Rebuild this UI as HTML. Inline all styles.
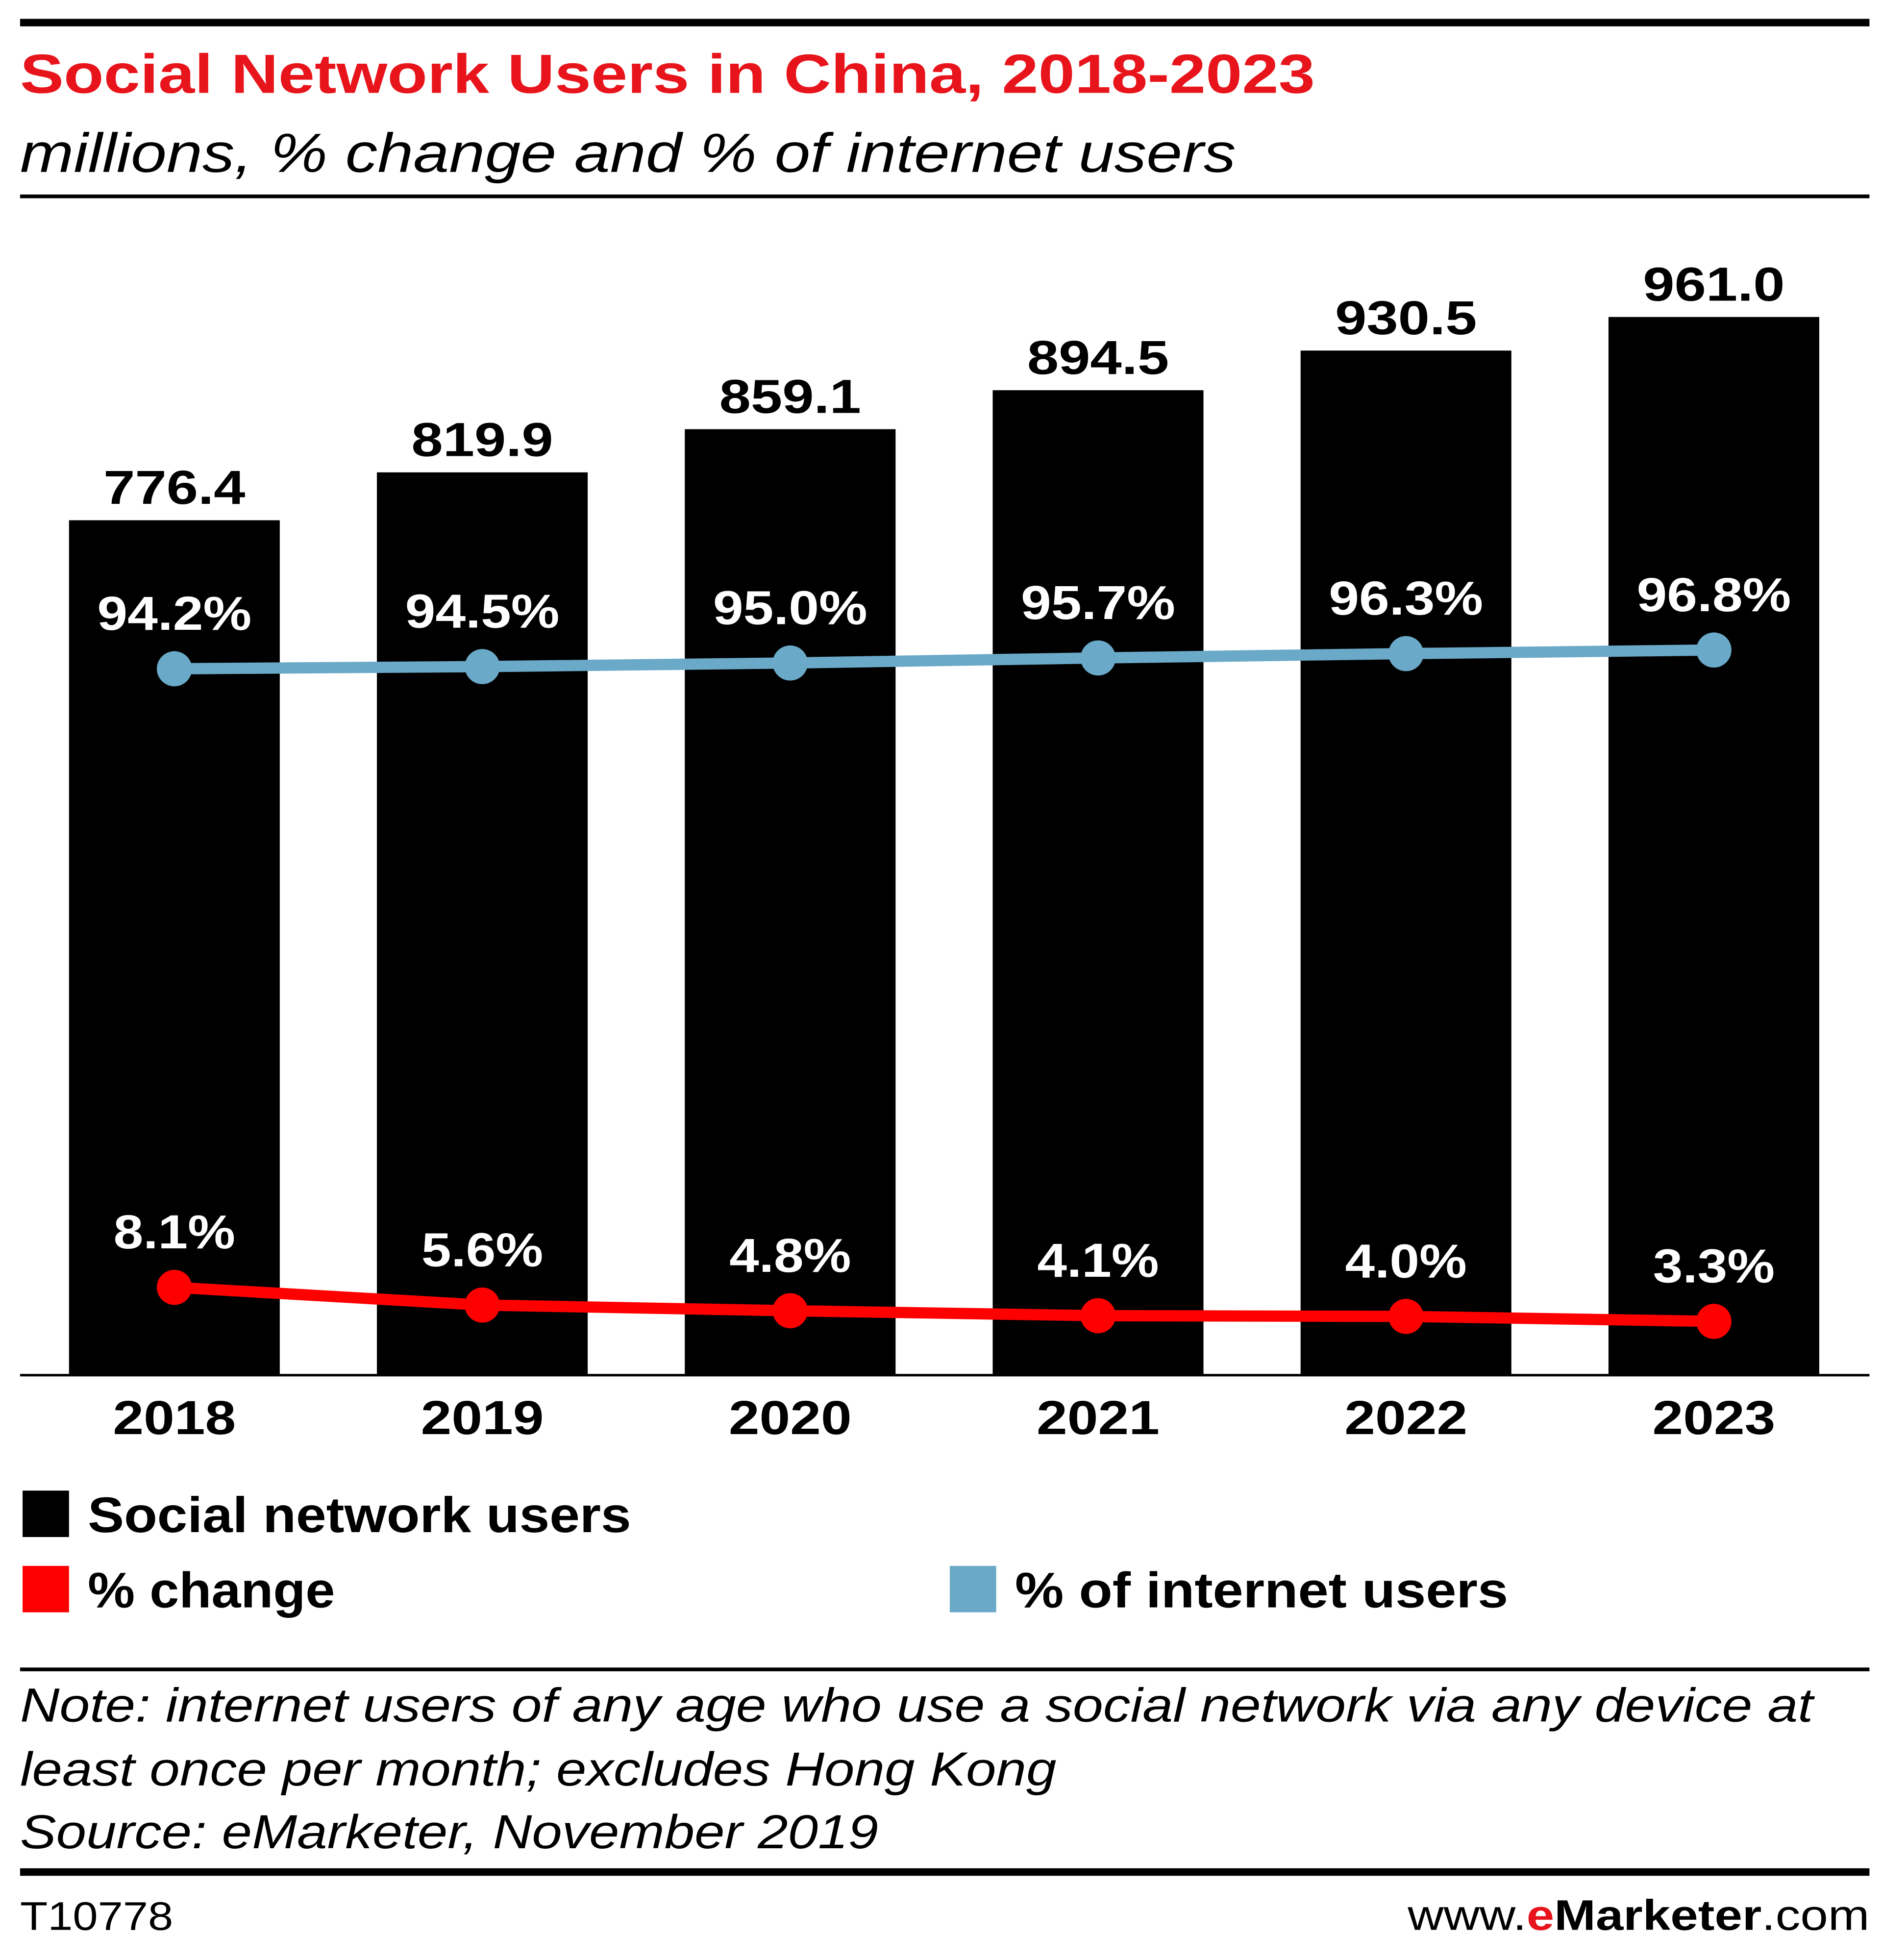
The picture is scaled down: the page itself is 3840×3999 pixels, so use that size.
<!DOCTYPE html>
<html><head><meta charset="utf-8"><style>
html,body{margin:0;padding:0;background:#fff}
svg{display:block}
text{font-family:"Liberation Sans",sans-serif}
</style></head><body>
<svg id="chart" width="3840" height="3999" viewBox="0 0 1500 1562.1" xmlns="http://www.w3.org/2000/svg">
<rect x="0" y="0" width="1500" height="1562.1" fill="#fff"/>
<rect x="16" y="15" width="1474" height="6" fill="#000"/>
<text x="16" y="74" font-size="44" font-weight="bold" fill="#e8141b" textLength="1032" lengthAdjust="spacingAndGlyphs">Social Network Users in China, 2018-2023</text>
<text x="16" y="137" font-size="44" font-style="italic" fill="#000" textLength="969" lengthAdjust="spacingAndGlyphs">millions, % change and % of internet users</text>
<rect x="16" y="155" width="1474" height="3" fill="#000"/>
<g id="plot"></g>
<rect x="18" y="1188" width="37" height="37" fill="#000"/>
<text x="70" y="1221" font-size="40" font-weight="bold" textLength="433" lengthAdjust="spacingAndGlyphs">Social network users</text>
<rect x="18" y="1248" width="37" height="37" fill="#ff0000"/>
<text x="70" y="1281" font-size="40" font-weight="bold" textLength="197" lengthAdjust="spacingAndGlyphs">% change</text>
<rect x="757" y="1248" width="37" height="37" fill="#6aa9c8"/>
<text x="809" y="1281" font-size="40" font-weight="bold" textLength="393" lengthAdjust="spacingAndGlyphs">% of internet users</text>
<rect x="16" y="1329" width="1474" height="3" fill="#000"/>
<text x="16" y="1372" font-size="38" font-style="italic" textLength="1429" lengthAdjust="spacingAndGlyphs">Note: internet users of any age who use a social network via any device at</text>
<text x="16" y="1423" font-size="38" font-style="italic" textLength="826" lengthAdjust="spacingAndGlyphs">least once per month; excludes Hong Kong</text>
<text x="16" y="1473" font-size="38" font-style="italic" textLength="684" lengthAdjust="spacingAndGlyphs">Source: eMarketer, November 2019</text>
<rect x="16" y="1489" width="1474" height="6" fill="#000"/>
<text x="16" y="1538" font-size="32" textLength="122" lengthAdjust="spacingAndGlyphs">T10778</text>
<text x="1122" y="1538" font-size="34" textLength="368" lengthAdjust="spacingAndGlyphs">www.<tspan font-weight="bold" fill="#e8141b">e</tspan><tspan font-weight="bold">Marketer</tspan>.com</text>
</svg>
<script>
const years = ["2018","2019","2020","2021","2022","2023"];
const users = [776.4, 819.9, 859.1, 894.5, 930.5, 961.0];
const pctChange = [8.1, 5.6, 4.8, 4.1, 4.0, 3.3];
const pctInternet = [94.2, 94.5, 95.0, 95.7, 96.3, 96.8];

const NS = "http://www.w3.org/2000/svg";
const plot = document.getElementById("plot");
const baseY = 1096, x0 = 139, step = 245.4, barW = 168;
const xPos = i => x0 + i * step;
const yBar = v => baseY - v * 0.8776;
const yBlue = v => 533 - (v - 94.2) * 5.75;
const yRed = v => 1026 - (v - 8.1) * 5.65;

function mk(tag, attrs, text) {
  const e = document.createElementNS(NS, tag);
  for (const k in attrs) e.setAttribute(k, attrs[k]);
  if (text !== undefined) e.textContent = text;
  plot.appendChild(e);
  return e;
}

users.forEach((v, i) => {
  const b = mk("rect", {x: xPos(i) - barW / 2, y: yBar(v), width: barW, height: baseY - yBar(v), fill: "#000"});
  
  
  const t = mk("text", {x: xPos(i), y: yBar(v) - 13, "font-size": 38, "font-weight": "bold", "text-anchor": "middle", textLength: 113, lengthAdjust: "spacingAndGlyphs"}, v.toFixed(1));
  
  
  const xl = mk("text", {x: xPos(i), y: 1143, "font-size": 38, "font-weight": "bold", "text-anchor": "middle", textLength: 98, lengthAdjust: "spacingAndGlyphs"}, years[i]);
  
  
});

const axis = mk("rect", {x: 16, y: baseY - 1, width: 1474, height: 2, fill: "#000"});



function series(vals, yf, color, name) {
  const pl = mk("polyline", {points: vals.map((v, i) => xPos(i) + "," + yf(v)).join(" "), fill: "none", stroke: color, "stroke-width": 9});
  
  
  vals.forEach((v, i) => {
    const c = mk("circle", {cx: xPos(i), cy: yf(v), r: 14, fill: color});
    
    
    const s = v.toFixed(1) + "%";
    const t = mk("text", {x: xPos(i), y: yf(v) - 31, "font-size": 38, "font-weight": "bold", "text-anchor": "middle", fill: "#fff", textLength: s.length > 4 ? 123 : 97, lengthAdjust: "spacingAndGlyphs"}, s);
    
    
  });
}
series(pctInternet, yBlue, "#6aa9c8", "pct-internet-users");
series(pctChange, yRed, "#ff0000", "pct-change");
</script>
</body></html>
